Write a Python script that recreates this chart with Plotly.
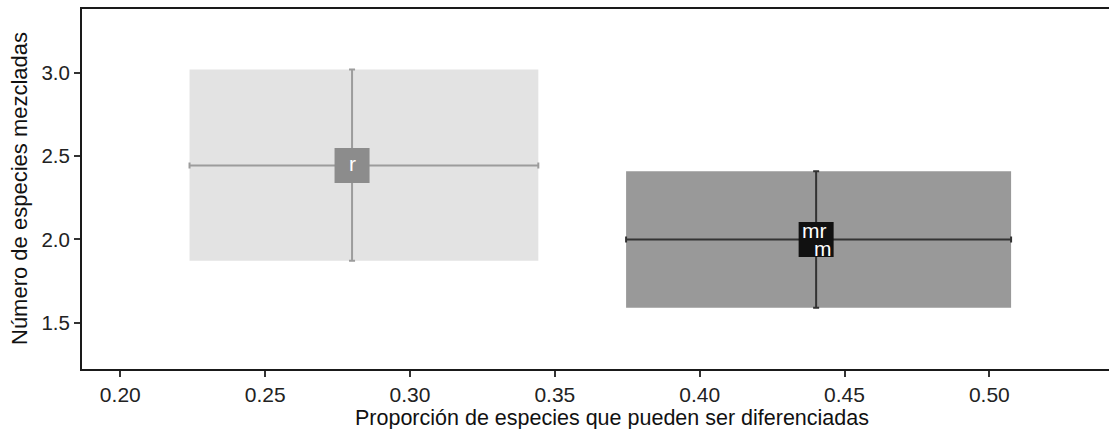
import plotly.graph_objects as go

# ---- data ----
groups = ["r", "mr"]
x_mean = [0.28, 0.4402]
x_low = [0.2239, 0.3746]
x_high = [0.3443, 0.5075]
y_mean = [2.443, 1.999]
y_low = [1.872, 1.589]
y_high = [3.019, 2.409]
extra_labels = ["", "m"]  # overlapping second label in group 2
x_ticks = [0.20, 0.25, 0.30, 0.35, 0.40, 0.45, 0.50]
y_ticks = [1.5, 2.0, 2.5, 3.0]
x_title = "Proporción de especies que pueden ser diferenciadas"
y_title = "Número de especies mezcladas"

# ---- styles ----
rect_fill = ["#e3e3e3", "#999999"]
bar_color = ["#9c9c9c", "#333333"]
label_bg = ["#8c8c8c", "#111111"]
FONT = "Liberation Sans, Arial, sans-serif"

fig = go.Figure()

for i, g in enumerate(groups):
    x0, x1 = x_low[i], x_high[i]
    y0, y1 = y_low[i], y_high[i]
    fig.add_trace(go.Scatter(
        x=[x0, x1, x1, x0, x0], y=[y0, y0, y1, y1, y0],
        mode="lines", fill="toself", fillcolor=rect_fill[i],
        line=dict(width=0, color=rect_fill[i]), hoverinfo="skip", showlegend=False))
    fig.add_trace(go.Scatter(
        x=[x_mean[i]], y=[y_mean[i]], mode="markers",
        marker=dict(size=1, color=bar_color[i], opacity=0),
        error_x=dict(type="data", symmetric=False,
                     array=[x_high[i] - x_mean[i]], arrayminus=[x_mean[i] - x_low[i]],
                     color=bar_color[i], thickness=2, width=3),
        error_y=dict(type="data", symmetric=False,
                     array=[y_high[i] - y_mean[i]], arrayminus=[y_mean[i] - y_low[i]],
                     color=bar_color[i], thickness=2, width=3),
        showlegend=False))
    fig.add_trace(go.Scatter(
        x=[x_mean[i]], y=[y_mean[i]], mode="markers",
        marker=dict(symbol="square", size=35, color=label_bg[i], line=dict(width=0)),
        showlegend=False))

lab_font = dict(family=FONT, size=21, color="white")
annotations = [
    dict(x=x_mean[0], y=y_mean[0], xref="x", yref="y", text=groups[0],
         showarrow=False, font=lab_font, xanchor="center", yanchor="middle", yshift=2),
    dict(x=x_mean[1], y=y_mean[1], xref="x", yref="y", text=groups[1],
         showarrow=False, font=lab_font, xanchor="center", yanchor="middle", xshift=-2, yshift=9),
    dict(x=x_mean[1], y=y_mean[1], xref="x", yref="y", text=extra_labels[1],
         showarrow=False, font=lab_font, xanchor="center", yanchor="middle", xshift=7, yshift=-9),
    # axis titles
    dict(x=0.5158, y=0, xref="paper", yref="paper", text=x_title, showarrow=False,
         font=dict(family=FONT, size=21.5, color="#111111"),
         xanchor="center", yanchor="middle", yshift=-49),
    dict(x=0, y=0.5, xref="paper", yref="paper", text=y_title, showarrow=False,
         textangle=-90, font=dict(family=FONT, size=22, color="#111111"),
         xanchor="center", yanchor="middle", xshift=-63),
]

fig.update_layout(
    width=1109, height=429,
    margin=dict(l=82, r=0, t=9, b=60, autoexpand=False),
    paper_bgcolor="white", plot_bgcolor="white",
    font=dict(family=FONT, color="#222222"),
    annotations=annotations,
    xaxis=dict(
        range=[0.18678, 0.5413], tickvals=x_ticks,
        ticktext=[f"{v:.2f}" for v in x_ticks],
        showgrid=False, zeroline=False, automargin=False,
        showline=True, linecolor="#1a1a1a", linewidth=2, mirror=True,
        ticks="outside", ticklen=6, tickwidth=2, tickcolor="#333333",
        tickfont=dict(family=FONT, size=21, color="#222222"),
    ),
    yaxis=dict(
        range=[1.222, 3.382], tickvals=y_ticks,
        ticktext=[f"{v:.1f}" for v in y_ticks],
        showgrid=False, zeroline=False, automargin=False,
        showline=True, linecolor="#1a1a1a", linewidth=2,
        ticks="outside", ticklen=6, tickwidth=2, tickcolor="#333333",
        tickfont=dict(family=FONT, size=20.5, color="#222222"),
    ),
)

fig.write_html("out.html", config={"displayModeBar": False},
               post_script="document.body.style.margin='0';")
